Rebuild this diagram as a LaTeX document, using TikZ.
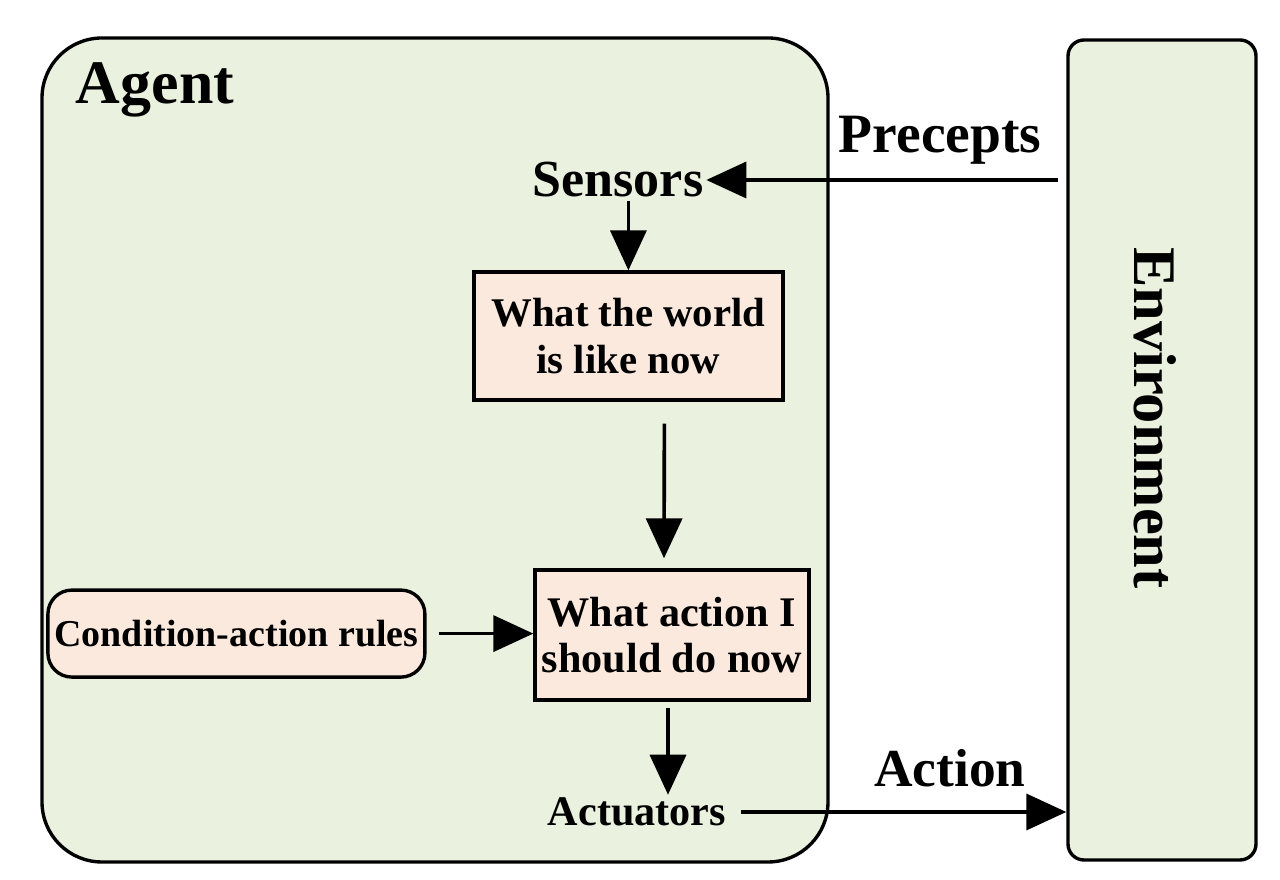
\documentclass[tikz,border=0pt]{standalone}
\usepackage{fontspec}
\setmainfont{Liberation Serif}
\usepackage{tikz}
\usetikzlibrary{arrows.meta,calc}
\definecolor{agentgreen}{RGB}{234,241,222}
\definecolor{boxpeach}{RGB}{251,233,222}
\def\fsize#1{\fontsize{#1}{33}\selectfont\bfseries}

\begin{document}
\begin{tikzpicture}[
	arr/.style={line width=2.6pt, -{Triangle[length=1cm, width=0.9cm]}},
	rulebox/.style={draw, line width=2.4pt, fill=boxpeach, align=center, inner sep=0pt},
	label/.style={inner sep=2pt, align=center}
	]
			%%%%% START %%%%%
			
			\useasboundingbox[fill=white] (0, 0) rectangle (32, 22);
			
			\draw[line width=2.4pt, fill=agentgreen, rounded corners=1.5cm] (1.05, 0.45) rectangle (20.7, 21.05);
			\node[label, font=\fsize{44}] (agent) at (3.875, 19.75) {Agent};
			
			\node[draw, line width=2.4pt, fill=agentgreen, rounded corners=0.4cm, minimum width=4.7cm, minimum height=20.5cm] (env) at (29.05, 10.75) {};
			\node[label, rotate=-90, font=\fsize{43}] (envtext) at (28.875, 11.55) {Environment};
			
			\node[label, font=\fsize{37}] (sensors) at (15.45, 17.5) {Sensors};
			\node[label, font=\fsize{39.5}] (precepts) at (23.5, 18.5) {Precepts};
			
			\node[rulebox, font=\fsize{29}, minimum width=7.725cm, minimum height=3.2cm] (world) at (15.71, 13.6) {What the world\\is like now};
			\node[rulebox, font=\fsize{30}, minimum width=6.85cm, minimum height=3.25cm] (todo) at (16.8, 6.125) {What action I\\should do now};
			\node[rulebox, font=\fsize{27}, rounded corners=0.6cm, minimum width=9.425cm, minimum height=2.175cm] (rules) at (5.91, 6.16) {Condition-action rules};
			
			\node[label, font=\fsize{30}] (actuators) at (15.925, 1.7) {Actuators};
			\node[label, font=\fsize{38}] (action) at (23.75, 2.8) {Action};
			
			\draw[arr, shorten <=0.2cm] (sensors.east -| env.west) -- (sensors.east);
			\draw[arr] (sensors.south -| world.north) -- (world.north);
			\draw[arr] ([xshift=0.9cm, yshift=-0.55cm]world.south) -- ([xshift=-0.2cm, yshift=0.25cm]todo.north);
			\draw[arr, shorten <=0.3cm] (rules.east) -- (rules.east -| todo.west);
			\draw[arr] ([xshift=-0.1cm, yshift=-0.15cm]todo.south) -- ([xshift=-0.1cm]todo.south |- actuators.north);
			\draw[arr, shorten <=0.3cm] (actuators.east) -- (actuators.east -| env.west);
			
			%%%%% END %%%%%
\end{tikzpicture}
\end{document}
